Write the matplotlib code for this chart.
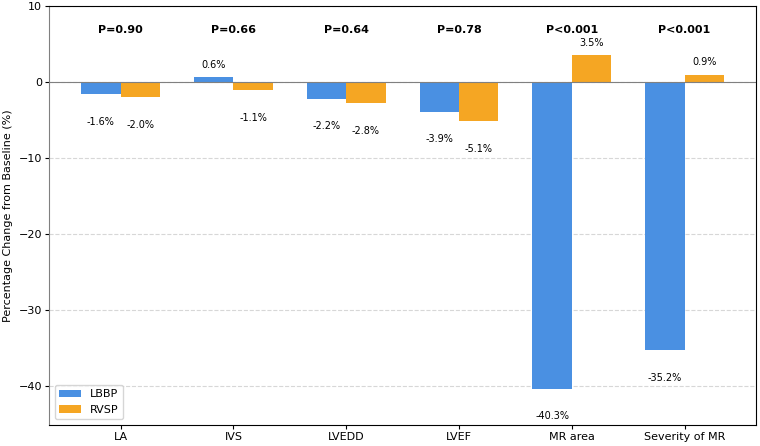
import numpy as np
import matplotlib.pyplot as plt

categories = ['LA', 'IVS', 'LVEDD', 'LVEF', 'MR area', 'Severity of MR']
lbbp = [-1.6, 0.6, -2.2, -3.9, -40.3, -35.2]
rvsp = [-2.0, -1.1, -2.8, -5.1, 3.5, 0.9]
p_values = ['P=0.90', 'P=0.66', 'P=0.64', 'P=0.78', 'P<0.001', 'P<0.001']

x = np.arange(len(categories))
width = 0.35

fig, ax = plt.subplots(figsize=(7.6, 4.46), dpi=100)
fig.subplots_adjust(left=0.0645, right=0.995, top=0.987, bottom=0.047)
ax.bar(x - width / 2, lbbp, width, color='#4A90E2', label='LBBP')
ax.bar(x + width / 2, rvsp, width, color='#F5A623', label='RVSP')

# value labels above / below each bar
for xs, vals in [(x - width / 2, lbbp), (x + width / 2, rvsp)]:
    for xi, v in zip(xs, vals):
        if v >= 0:
            ax.text(xi, v + 1, f'{v:.1f}%', ha='center', va='bottom', fontsize=7)
        else:
            ax.text(xi, v - 3, f'{v:.1f}%', ha='center', va='top', fontsize=7)

for xi, p in zip(x, p_values):
    ax.text(xi, 6.8, p, ha='center', va='center', fontsize=8, fontweight='bold')

ax.axhline(0, color='gray', linewidth=0.8)
ax.set_ylim(-45.1, 10)
ax.set_xticks(x)
ax.set_xticklabels(categories)
ax.tick_params(labelsize=8, length=3, pad=2)
ax.set_ylabel('Percentage Change from Baseline (%)', fontsize=8)
ax.yaxis.grid(True, linestyle='--', alpha=0.5)
ax.set_axisbelow(True)
ax.spines['left'].set_color('gray')
ax.legend(loc='lower left', fontsize=8)

plt.savefig('out.png')
